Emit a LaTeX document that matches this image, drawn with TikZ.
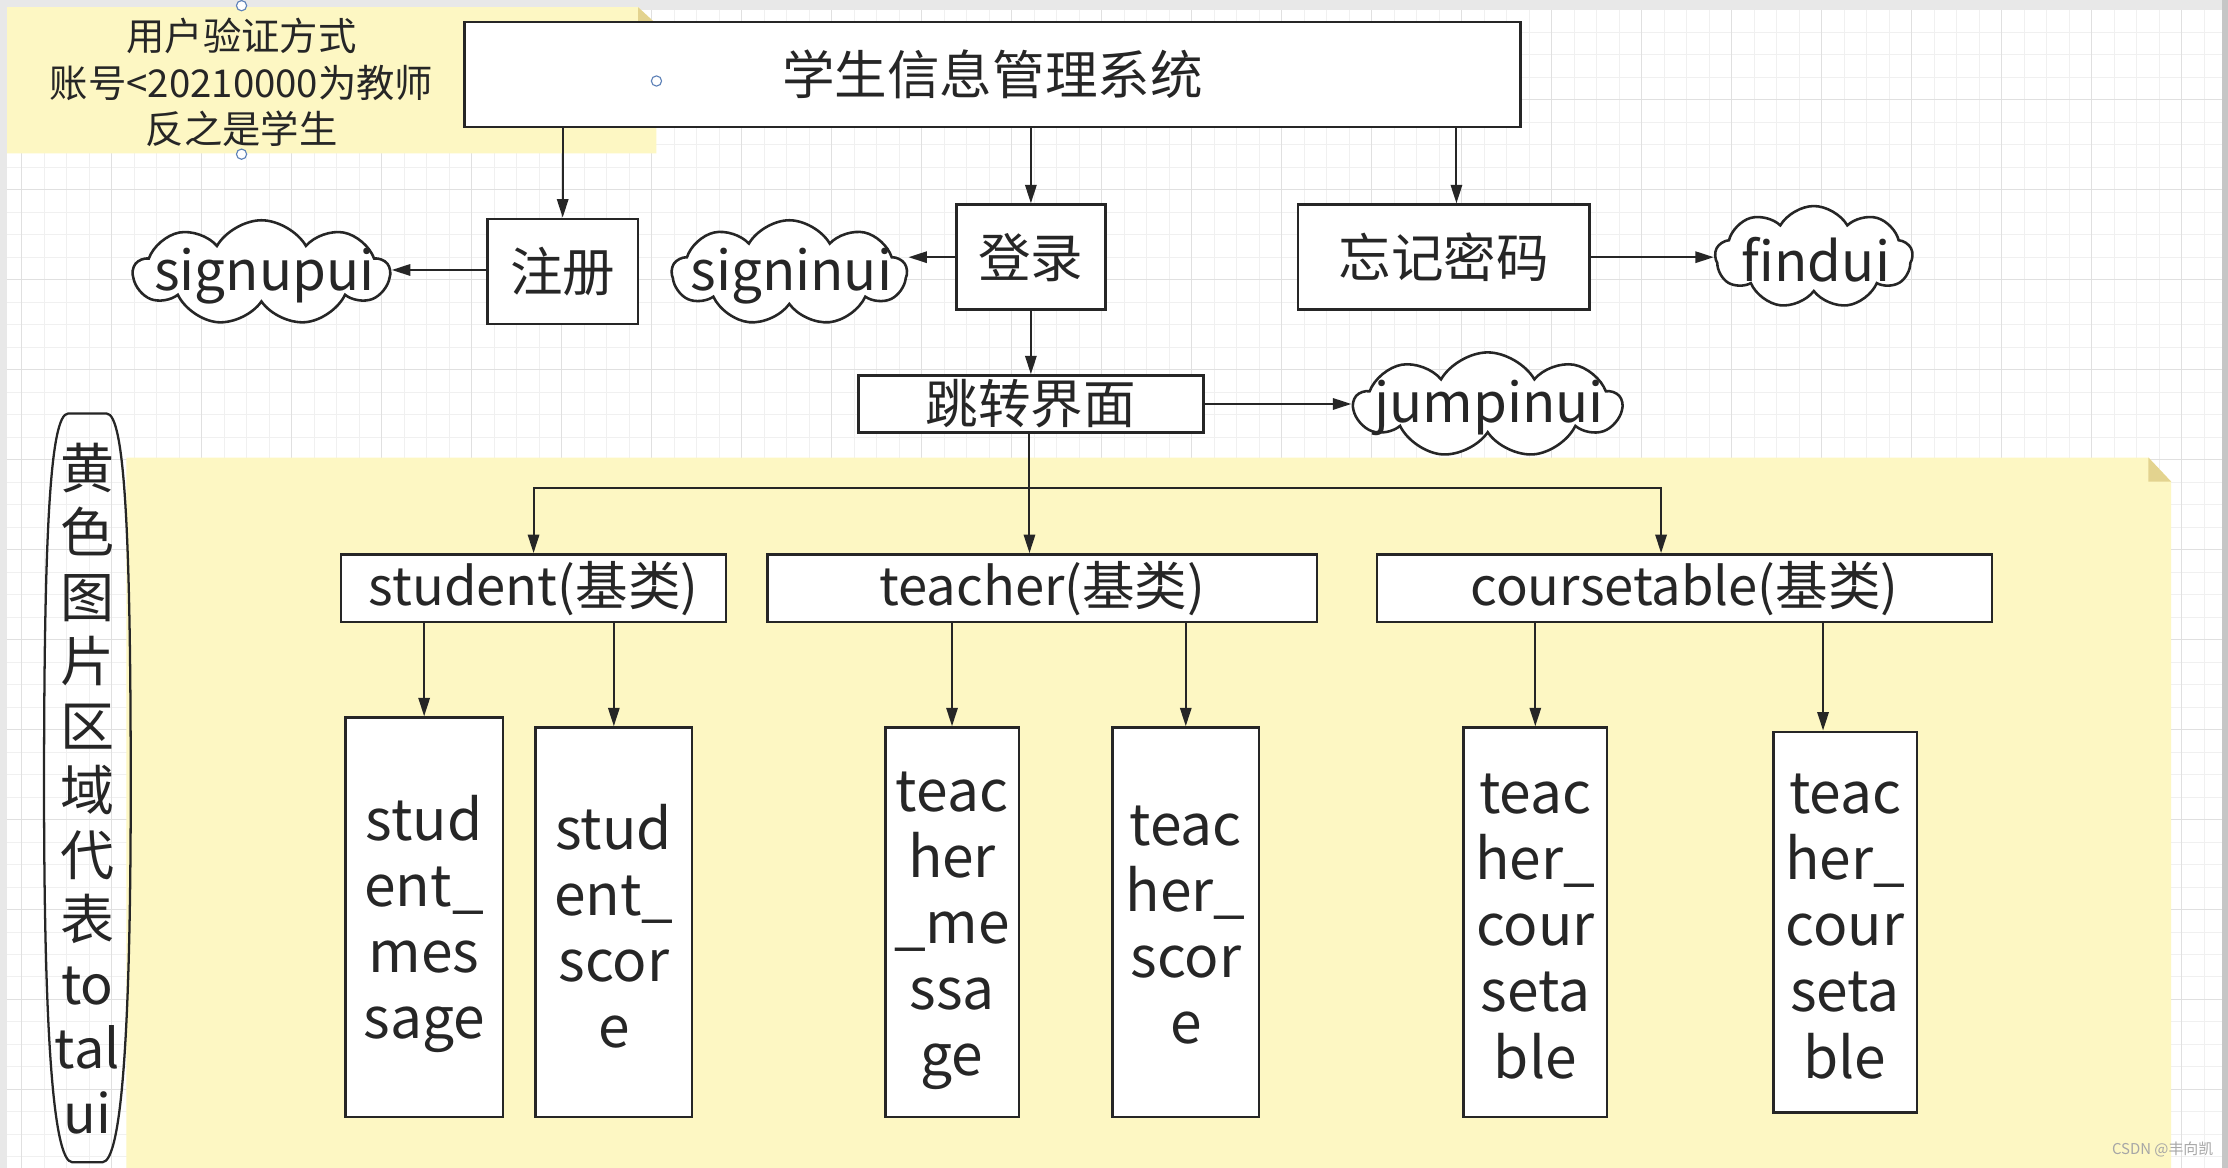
\documentclass[tikz,border=0pt]{standalone}
\usepackage{fontspec}
\setmainfont{Noto Sans CJK SC}
\usetikzlibrary{arrows.meta,shapes.symbols,calc}
\definecolor{ink}{HTML}{262626}
\definecolor{noteyellow}{HTML}{FDF7C3}
\definecolor{foldyellow}{HTML}{E3D38F}
\definecolor{gridminor}{HTML}{F0F0F0}
\definecolor{gridmajor}{HTML}{E0E0E0}
\definecolor{handleblue}{HTML}{5E82B8}
\definecolor{bandgray}{HTML}{E8E8E8}
\newcommand\fsz[2]{\fontsize{#1}{#2}\selectfont}
\tikzset{
  box/.style={draw=ink, line width=1.8pt, fill=white, inner sep=0pt, text=ink},
  cloudshape/.style={cloud, cloud puffs=9, cloud puff arc=120, cloud ignores aspect,
    draw=ink, line width=1.8pt, fill=white, inner sep=0pt},
  cloudtext/.style={text=ink, inner sep=0pt, font=\fsz{38.5}{46}},
  arr/.style={draw=ink, line width=1.4pt, -{Triangle[length=13pt,width=8pt]}},
  bigtext/.style={font=\fsz{37}{44}},
  midtext/.style={font=\fsz{37}{44}},
  leaftext/.style={text=ink, inner sep=0pt, font=\fsz{40}{46.5}, align=center},
  handle/.style={draw=handleblue, line width=0.8pt, fill=white},
}
\begin{document}
\begin{tikzpicture}[x=1pt, y=-1pt]
% canvas
\useasboundingbox (0,0) rectangle (1568,822);
\fill[white] (0,0) rectangle (1568,822);
\foreach \k in {0,...,98} {
  \pgfmathsetmacro\xx{15.3+15.833*\k}
  \draw[gridminor, line width=0.6pt] (\xx,7) -- (\xx,822);
}
\foreach \k in {0,...,51} {
  \pgfmathsetmacro\yy{6.7+15.833*\k}
  \draw[gridminor, line width=0.6pt] (5,\yy) -- (1564,\yy);
}
\foreach \k in {0,...,24} {
  \pgfmathsetmacro\xx{15.3+63.33*\k}
  \draw[gridmajor, line width=0.7pt] (\xx,7) -- (\xx,822);
}
\foreach \k in {0,...,12} {
  \pgfmathsetmacro\yy{6.7+63.33*\k}
  \draw[gridmajor, line width=0.7pt] (5,\yy) -- (1564,\yy);
}
\fill[bandgray] (0,0) rectangle (1568,7);
\fill[bandgray] (0,0) rectangle (5,822);
\fill[gray!45] (1564,0) rectangle (1568,822);

% yellow note (top left)
\fill[noteyellow] (5,5) -- (449,5) -- (462,17) -- (462,108) -- (5,108) -- cycle;
\fill[foldyellow] (449,5) -- (449,17) -- (462,17) -- cycle;
\node[text=ink, font=\fsz{27}{33}, align=center, inner sep=0pt] (note) at (170,58)
  {用户验证方式\\账号<20210000为教师\\反之是学生};

% big yellow area
\fill[noteyellow] (89,322) -- (1512,322) -- (1528,339) -- (1528,822) -- (89,822) -- cycle;
\fill[foldyellow] (1512,322) -- (1512,339) -- (1528,339) -- cycle;

% vertical label
\draw[ink, line width=1.6pt] (48,291) -- (75,291)
  .. controls (88,291) and (92,380) .. (92,554.5)
  .. controls (92,720) and (86,818) .. (72,818) -- (51,818)
  .. controls (37,818) and (31,720) .. (31,554.5)
  .. controls (31,380) and (35,291) .. (48,291) -- cycle;
\node[text=ink, font=\fsz{38}{45.4}, align=center, inner sep=0pt] (vlabel) at (61.5,555)
  {黄\\色\\图\\片\\区\\域\\代\\表\\to\\tal\\ui};

% top level boxes
\node[box, bigtext, minimum width=743pt, minimum height=74pt] (title) at (698.5,52.5) {学生信息管理系统};
\node[box, bigtext, minimum width=106pt, minimum height=74pt] (zhuce) at (396,191) {注册};
\node[box, bigtext, minimum width=105pt, minimum height=74pt] (denglu) at (725.5,181) {登录};
\node[box, bigtext, minimum width=205pt, minimum height=74pt] (forget) at (1016,181) {忘记密码};
\node[box, bigtext, minimum width=243pt, minimum height=40pt] (jump) at (725.5,284.3) {跳转界面};

% clouds
\node[cloudshape, minimum width=180pt, minimum height=74pt] (signup) at (184,192) {};
\node[cloudtext] (signuptxt) at (186,194) {signupui};
\node[cloudshape, minimum width=165pt, minimum height=74pt] (signin) at (555.5,192) {};
\node[cloudtext] (signintxt) at (557,194) {signinui};
\node[cloudshape, minimum width=139pt, minimum height=72pt] (find) at (1276.5,181) {};
\node[cloudtext] (findtxt) at (1278,183) {findui};
\node[cloudshape, minimum width=188pt, minimum height=74pt] (jumpin) at (1047,285) {};
\node[cloudtext] (jumpintxt) at (1048,287) {jumpinui};

% handles
\draw[handle] (170,4) circle[radius=3.6pt];
\draw[handle] (170,108.5) circle[radius=3.6pt];
\draw[handle] (462,57) circle[radius=3.6pt];

% second level
\node[box, midtext, minimum width=271pt, minimum height=47.7pt] (student) at (375.5,414) {student(基类)};
\node[box, midtext, minimum width=387pt, minimum height=47.7pt] (teacher) at (733.5,414) {teacher(基类)};
\node[box, midtext, minimum width=433pt, minimum height=47.7pt] (course) at (1185.5,414) {coursetable(基类)};

% leaves
\node[box, minimum width=111pt, minimum height=281pt] (sm) at (298.5,645.5) {};
\node[box, minimum width=110pt, minimum height=274pt] (ss) at (432,649) {};
\node[box, minimum width=94pt, minimum height=274pt] (tm) at (670,649) {};
\node[box, minimum width=103pt, minimum height=274pt] (ts) at (834.5,649) {};
\node[box, minimum width=101pt, minimum height=274pt] (c1) at (1080.5,649) {};
\node[box, minimum width=101pt, minimum height=268pt] (c2) at (1298.5,649) {};
\node[leaftext] (smtxt) at ([yshift=-5pt]sm.center) {stud\\ent\_\\mes\\sage};
\node[leaftext] (sstxt) at ([yshift=-3pt]ss.center) {stud\\ent\_\\scor\\e};
\node[leaftext] (tmtxt) at ([yshift=-6pt]tm.center) {teac\\her\\\_me\\ssa\\ge};
\node[leaftext] (tstxt) at ([yshift=-2pt]ts.center) {teac\\her\_\\scor\\e};
\node[leaftext] (c1txt) at ([yshift=-3pt]c1.center) {teac\\her\_\\cour\\seta\\ble};
\node[leaftext] (c2txt) at ([yshift=-3pt]c2.center) {teac\\her\_\\cour\\seta\\ble};

% connectors, top
\draw[arr] (title.south -| zhuce.north) -- (zhuce.north);
\draw[arr] (title.south -| denglu.north) -- (denglu.north);
\coordinate (forgettop) at ([xshift=9pt]forget.north);
\draw[arr] (title.south -| forgettop) -- (forgettop);
\draw[arr] ([yshift=1pt]zhuce.west) -- ([yshift=1pt]zhuce.west -| signup.east);
\draw[arr] (denglu.west) -- (denglu.west -| signin.east);
\draw[arr] (forget.east) -- (forget.east -| find.west);
\draw[arr] (jump.east) -- (jump.east -| jumpin.west);
\draw[arr] (denglu.south) -- (jump.north);

% connectors, bus
\coordinate (bus) at (724.5,343.6);
\coordinate (coursetop) at ([xshift=-16.5pt]course.north);
\draw[arr] (jump.south -| bus) -- (bus |- teacher.north);
\draw[arr] (bus) -| (student.north);
\draw[arr] (bus) -| (coursetop);

% connectors, leaves
\draw[arr] (student.south -| sm.north) -- (sm.north);
\draw[arr] (student.south -| ss.north) -- (ss.north);
\draw[arr] (teacher.south -| tm.north) -- (tm.north);
\draw[arr] (teacher.south -| ts.north) -- (ts.north);
\draw[arr] (course.south -| c1.north) -- (c1.north);
\coordinate (c2top) at ([xshift=-15.5pt]c2.north);
\draw[arr] (course.south -| c2top) -- (c2top);

% watermark
\node[text=gray!70, font=\fsz{10.5}{12}, inner sep=0pt] (mark) at (1522,809) {CSDN @丰向凯};
\end{tikzpicture}
\end{document}
